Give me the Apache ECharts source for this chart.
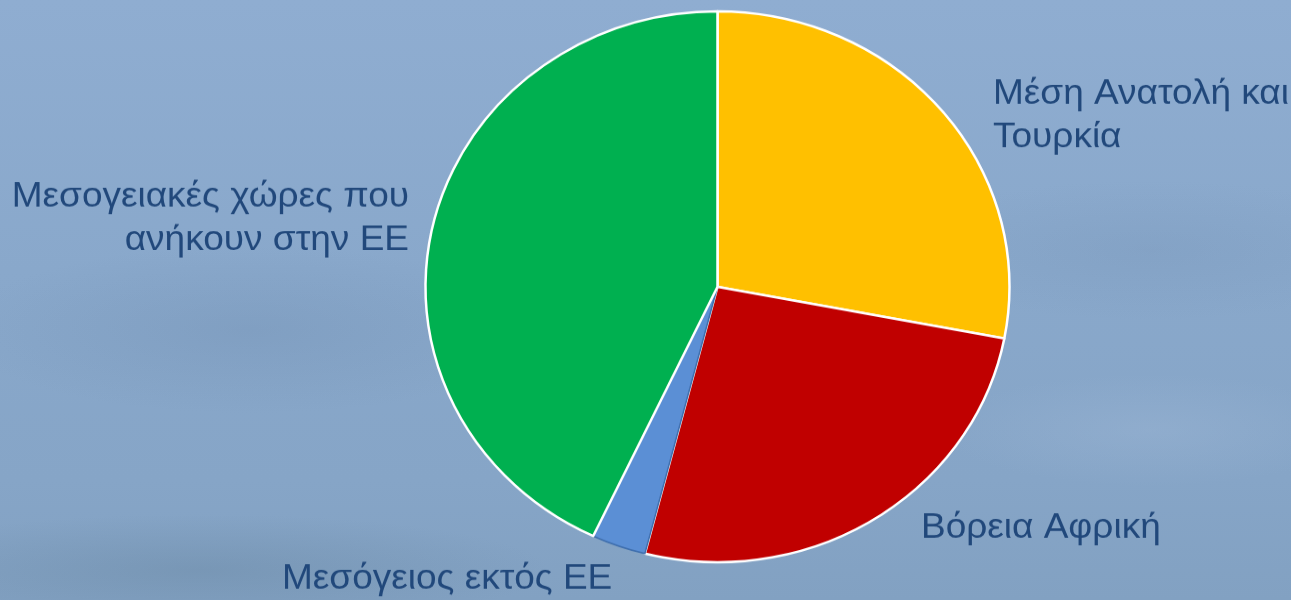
<!DOCTYPE html>
<html>
<head>
<meta charset="utf-8">
<script src="https://cdn.jsdelivr.net/npm/echarts@6/dist/echarts.min.js"></script>
<style>
  html, body { margin: 0; padding: 0; width: 1291px; height: 600px; overflow: hidden; }
  body {
    background:
      radial-gradient(ellipse 420px 120px at 250px 330px, rgba(110,140,175,0.3), rgba(110,140,175,0) 70%),
      radial-gradient(ellipse 500px 80px at 200px 570px, rgba(95,125,150,0.3), rgba(95,125,150,0) 70%),
      radial-gradient(ellipse 300px 80px at 1150px 430px, rgba(160,185,215,0.35), rgba(160,185,215,0) 70%),
      radial-gradient(ellipse 380px 100px at 1150px 250px, rgba(115,145,180,0.25), rgba(115,145,180,0) 70%),
      linear-gradient(180deg, #8fadd1 0%, #89a8cb 45%, #86a5c7 80%, #82a1c2 100%);
  }
  #chart { position: absolute; left: 0; top: 0; width: 1291px; height: 636px;
           transform: scaleY(0.9434); transform-origin: 0 0; }
</style>
</head>
<body>
<div id="chart"></div>
<script>
// ---- data ----
const categories = [
  'Μέση Ανατολή και\nΤουρκία',
  'Βόρεια Αφρική',
  'Μεσόγειος εκτός ΕΕ',
  'Μεσογειακές χώρες που\nανήκουν στην ΕΕ'
];
const values = [28, 26, 3, 43];

// ---- styling / layout (not data) ----
const colors = ['#FFC000', '#C00000', '#5B8FD5', '#00B050'];
const labelPos = [
  { x: 993, y: 123, align: 'left' },
  { x: 921, y: 560, align: 'left' },
  { x: 282, y: 614, align: 'left' },
  { x: 409, y: 232, align: 'right' }
];

const chart = echarts.init(document.getElementById('chart'), null, { renderer: 'canvas' });
chart.setOption({
  backgroundColor: 'transparent',
  animation: false,
  series: [{
    type: 'pie',
    center: [717.5, 304],
    radius: [0, 292],
    startAngle: 90,
    clockwise: true,
    avoidLabelOverlap: false,
    data: categories.map((name, i) => ({
      name: name,
      value: values[i],
      itemStyle: {
        color: colors[i],
        borderColor: i === 2 ? '#3f6fae' : '#ffffff',
        borderWidth: i === 2 ? 1.5 : 2.5
      }
    })),
    label: {
      show: true,
      position: 'outside',
      formatter: '{b}',
      color: '#21487b',
      fontFamily: 'Liberation Sans, Arial, sans-serif',
      fontSize: 37,
      lineHeight: 46
    },
    labelLine: { show: false },
    labelLayout: function (params) {
      const p = labelPos[params.dataIndex];
      return { x: p.x, y: p.y, align: p.align, verticalAlign: 'middle', hideOverlap: false };
    },
    emphasis: { disabled: true }
  }]
});
</script>
</body>
</html>
